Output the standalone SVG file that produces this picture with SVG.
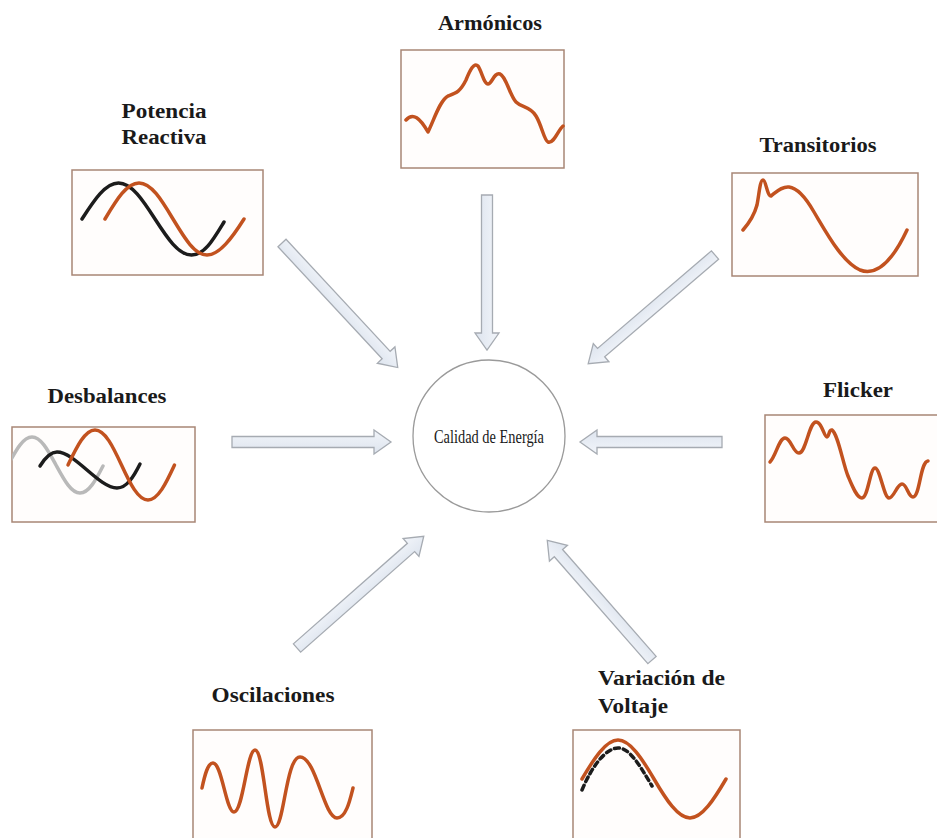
<svg xmlns="http://www.w3.org/2000/svg" width="937" height="838" viewBox="0 0 937 838">
<style>
.lbl{font-family:"Liberation Serif","Times New Roman",serif;font-weight:bold;font-size:20.5px;fill:#1a1a1a}
.box{fill:#fffdfc;stroke:#a88676;stroke-width:1.5}
.w{fill:none;stroke-width:3.5;stroke-linecap:round;stroke-linejoin:round}
.o{stroke:#c2521f}
.k{stroke:#1c1c1c}
.g{stroke:#b9b9b9}
.arr{fill:url(#ag);stroke:#a6abb2;stroke-width:1.3;stroke-linejoin:miter}
</style>
<defs>
<linearGradient id="ag" x1="0" y1="0" x2="0" y2="1">
<stop offset="0" stop-color="#f2f5fa"/>
<stop offset="1" stop-color="#dde4ee"/>
</linearGradient>
<clipPath id="cd"><rect x="12" y="427" width="183" height="95"/></clipPath>
</defs>
<rect width="937" height="838" fill="#ffffff"/>

<g id="connectors">
<polygon class="arr" points="0,-5.5 138,-5.5 138,-12 155,0 138,12 138,5.5 0,5.5" transform="translate(487,195) rotate(90)"/>
<polygon class="arr" points="0,-5.5 153,-5.5 153,-12 170,0 153,12 153,5.5 0,5.5" transform="translate(282,243) rotate(47.1)"/>
<polygon class="arr" points="0,-5.5 150,-5.5 150,-12 167,0 150,12 150,5.5 0,5.5" transform="translate(715,255) rotate(139.4)"/>
<polygon class="arr" points="0,-5.5 142,-5.5 142,-12 159,0 142,12 142,5.5 0,5.5" transform="translate(232,442) rotate(0)"/>
<polygon class="arr" points="0,-5.5 125,-5.5 125,-12 142,0 125,12 125,5.5 0,5.5" transform="translate(722,442) rotate(180)"/>
<polygon class="arr" points="0,-5.5 152,-5.5 152,-12 169,0 152,12 152,5.5 0,5.5" transform="translate(297,648) rotate(-41.4)"/>
<polygon class="arr" points="0,-5.5 142,-5.5 142,-12 159,0 142,12 142,5.5 0,5.5" transform="translate(652,660) rotate(-131.2)"/>
</g>

<g id="center">
<circle cx="489" cy="436" r="76" fill="#ffffff" stroke="#9a9a9a" stroke-width="1.3"/>
<text x="489" y="443" text-anchor="middle" textLength="110" lengthAdjust="spacingAndGlyphs" style="font-family:'Liberation Serif','Times New Roman',serif;font-size:18px;fill:#1a1a1a">Calidad de Energía</text>
</g>

<g id="armonicos">
<text class="lbl" x="490" y="30" text-anchor="middle" textLength="104" lengthAdjust="spacingAndGlyphs">Armónicos</text>
<rect class="box" x="401" y="50" width="163" height="118"/>
<path class="w o" d="M406,120 C413,112 420,118 428,132 C434,120 440,100 448,96 C456,93 460,92 466,80 C470,70 474,62 478,66 C482,72 484,84 488,84 C492,84 494,72 500,74 C506,76 510,96 516,102 C522,108 530,106 536,116 C542,126 544,140 548,142 C554,144 558,130 563,126"/>
</g>

<g id="potencia">
<text class="lbl" x="164" y="118" text-anchor="middle" textLength="85" lengthAdjust="spacingAndGlyphs">Potencia</text>
<text class="lbl" x="164" y="144" text-anchor="middle" textLength="85" lengthAdjust="spacingAndGlyphs">Reactiva</text>
<rect class="box" x="72" y="170" width="191" height="105"/>
<path class="w k" d="M82,219 C94.2,200.1 105.4,183 118.5,183 C131.6,183 142.8,200.1 155,219 C167.2,237.9 178.4,255 191.5,255 C204.6,255 213,240 224,222"/>
<path class="w o" d="M105,219 C116.4,200.1 126.6,183 139,183 C151.4,183 161.6,200.1 173,219 C184.4,237.9 194.6,255 207,255 C219.4,255 232,238 244,219"/>
</g>

<g id="transitorios">
<text class="lbl" x="818" y="152" text-anchor="middle" textLength="117" lengthAdjust="spacingAndGlyphs">Transitorios</text>
<rect class="box" x="732" y="173" width="186" height="103"/>
<path class="w o" d="M743,230 C750,222 754,216 757,205 C759,195 760,180 763,180 C766,180 767,196 771,196 C775,193 781,186 789,187 C798,188 806,198 814,212 C826,232 842,262 860,270 C876,276 892,262 907,230"/>
</g>

<g id="desbalances">
<text class="lbl" x="107" y="403" text-anchor="middle" textLength="119" lengthAdjust="spacingAndGlyphs">Desbalances</text>
<rect class="box" x="12" y="427" width="183" height="95"/>
<g clip-path="url(#cd)">
<path class="w g" d="M8,465 C16,450.3 23,437 32,437 C41,437 48,450.3 56,465 C64,479.7 71,493 80,493 C89,493 96,479.7 103,466"/>
</g>
<path class="w k" d="M40,466 C45,458 50,452 57,452 C75,452 99,488 117,488 C127,488 134,476 140,464"/>
<path class="w o" d="M68,465 C76.9,446.6 84.9,430 95,430 C105,430 113,446.6 121.5,465 C130,483.4 138,500 148,500 C158,500 166,483.4 174.5,465"/>
</g>

<g id="flicker">
<text class="lbl" x="858" y="397" text-anchor="middle" textLength="70" lengthAdjust="spacingAndGlyphs">Flicker</text>
<rect class="box" x="765" y="415" width="180" height="107"/>
<path class="w o" d="M770,462 C776,456 779,438 785,438 C791,438 793,453 799,453 C806,453 809,422 816,422 C822,422 824,437 827,437 C829,437 829,429 832,430 C838,434 843,464 848,476 C853,488 857,498 862,498 C868,498 870,468 875,468 C880,468 884,498 889,498 C894,498 897,484 902,484 C907,484 908,497 913,497 C920,497 920,462 928,461"/>
</g>

<g id="oscilaciones">
<text class="lbl" x="273" y="702" text-anchor="middle" textLength="123" lengthAdjust="spacingAndGlyphs">Oscilaciones</text>
<rect class="box" x="193" y="730" width="179" height="120"/>
<path class="w o" d="M202,788 C205,774 208,763 213,763 C222,763 226,812 234,812 C243,812 247,750 255,750 C264,750 266,827 275,827 C284,827 286,757 300,757 C316,757 324,818 337,818 C346,818 350,800 353,788"/>
</g>

<g id="variacion">
<text class="lbl" x="598" y="685" textLength="127" lengthAdjust="spacingAndGlyphs">Variación de</text>
<text class="lbl" x="598" y="713" textLength="70" lengthAdjust="spacingAndGlyphs">Voltaje</text>
<rect class="box" x="573" y="730" width="167" height="120"/>
<path class="w o" d="M582,779 C594,758.5 606,740 618,740 C630,740 642,758.5 654,779 C666,799.5 678,818 690,818 C702,818 714,799.5 726,779"/>
<path class="w k" stroke-dasharray="5,4" stroke-linecap="butt" d="M582,790 C592,766 606,748 618,748 C630,748 640,766 652,786"/>
</g>
</svg>
